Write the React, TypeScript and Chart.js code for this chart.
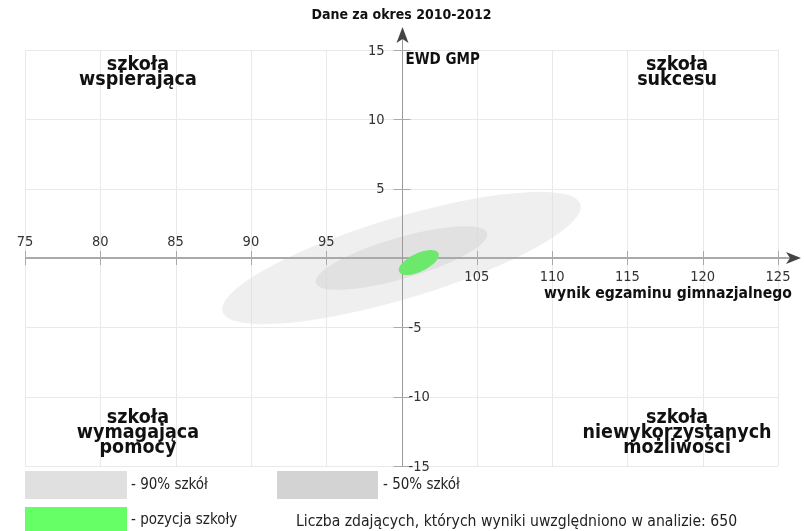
import React, { useEffect, useRef } from "react";
import { Chart, registerables } from "chart.js";

Chart.register(...registerables);

// ---- data ----
const chartTitle = "Dane za okres 2010-2012";
const xAxisTitle = "wynik egzaminu gimnazjalnego";
const yAxisTitle = "EWD GMP";
const xMin = 75;
const xMax = 125;
const yMin = -15;
const yMax = 15;
const xCross = 100;
const yCross = 0;
const xTickValues = [75, 80, 85, 90, 95, 100, 105, 110, 115, 120, 125];
const yTickValues = [-15, -10, -5, 0, 5, 10, 15];

const ellipseNames = ["90% szkół", "50% szkół", "pozycja szkoły"];
const ellipseCenterX = [100, 100, 101.15];
const ellipseCenterY = [0, 0, -0.33];
const ellipseHalfWidth = [11.9, 5.7, 1.33];
const ellipseHalfHeight = [4.77, 2.29, 0.9];
const ellipseCorrelation = [0.77, 0.74, 0.6];
const ellipseFill = ["rgba(224,224,224,0.5)", "rgba(211,211,211,0.5)", "rgb(108,232,108)"];
const legendFill = ["#e0e0e0", "#d3d3d3", "#66ff66"];

const quadrantLines = [
  ["szkoła", "wspierająca"],
  ["szkoła", "sukcesu"],
  ["szkoła", "wymagająca", "pomocy"],
  ["szkoła", "niewykorzystanych", "możliwości"],
];
const quadrantX = [82.5, 118.3, 82.5, 118.3];
const quadrantY = [13.95, 13.95, -11.55, -11.55];

const countNote = "Liczba zdających, których wyniki uwzględniono w analizie: 650";

const FONT = "'DejaVu Sans Condensed', 'DejaVu Sans', sans-serif";

const drawPlugin = {
  id: "ewdDraw",
  beforeDatasetsDraw(chart: any) {
    const ctx: CanvasRenderingContext2D = chart.ctx;
    const xs = chart.scales.x;
    const ys = chart.scales.y;
    const area = chart.chartArea;
    const ax = xs.getPixelForValue(xCross);
    const ay = ys.getPixelForValue(yCross);

    ctx.save();
    // grid
    ctx.strokeStyle = "#e9e9e9";
    ctx.lineWidth = 1;
    xTickValues.forEach((v) => {
      const px = Math.round(xs.getPixelForValue(v)) + 0.5;
      ctx.beginPath();
      ctx.moveTo(px, area.top);
      ctx.lineTo(px, area.bottom);
      ctx.stroke();
    });
    yTickValues.forEach((v) => {
      const py = Math.round(ys.getPixelForValue(v)) + 0.5;
      ctx.beginPath();
      ctx.moveTo(area.left, py);
      ctx.lineTo(area.right, py);
      ctx.stroke();
    });

    const drawEllipse = (i: number) => {
      const cx = xs.getPixelForValue(ellipseCenterX[i]);
      const cy = ys.getPixelForValue(ellipseCenterY[i]);
      const r = ellipseCorrelation[i];
      const h = ellipseHalfHeight[i];
      const ux = xs.getPixelForValue(ellipseCenterX[i] + ellipseHalfWidth[i]) - cx;
      const uy = ys.getPixelForValue(ellipseCenterY[i] + r * h) - cy;
      const vy = ys.getPixelForValue(ellipseCenterY[i] + Math.sqrt(1 - r * r) * h) - cy;
      ctx.save();
      ctx.transform(ux, uy, 0, vy, cx, cy);
      ctx.beginPath();
      ctx.arc(0, 0, 1, 0, Math.PI * 2);
      ctx.restore();
      ctx.fillStyle = ellipseFill[i];
      ctx.fill();
    };
    drawEllipse(0);
    drawEllipse(1);

    // x axis
    ctx.strokeStyle = "#aaaaaa";
    ctx.lineWidth = 2;
    ctx.beginPath();
    ctx.moveTo(area.left, ay);
    ctx.lineTo(area.right + 13, ay);
    ctx.stroke();
    // y axis
    ctx.strokeStyle = "#999999";
    ctx.lineWidth = 1;
    ctx.beginPath();
    ctx.moveTo(Math.round(ax) + 0.5, area.bottom);
    ctx.lineTo(Math.round(ax) + 0.5, area.top - 20);
    ctx.stroke();

    drawEllipse(2);

    // arrows
    ctx.fillStyle = "#444444";
    const yTip = area.top - 23;
    const axr = Math.round(ax) + 0.5;
    ctx.beginPath();
    ctx.moveTo(axr, yTip);
    ctx.lineTo(axr + 6, yTip + 16);
    ctx.lineTo(axr, yTip + 12);
    ctx.lineTo(axr - 6, yTip + 16);
    ctx.closePath();
    ctx.fill();
    const xTip = area.right + 23;
    ctx.beginPath();
    ctx.moveTo(xTip, ay);
    ctx.lineTo(xTip - 15, ay - 6);
    ctx.lineTo(xTip - 11, ay);
    ctx.lineTo(xTip - 15, ay + 6);
    ctx.closePath();
    ctx.fill();

    // tick marks
    ctx.strokeStyle = "#aaaaaa";
    ctx.lineWidth = 1;
    xTickValues.forEach((v) => {
      if (v === xCross) return;
      const px = Math.round(xs.getPixelForValue(v)) + 0.5;
      ctx.beginPath();
      ctx.moveTo(px, ay - 7);
      ctx.lineTo(px, ay + 7);
      ctx.stroke();
    });
    yTickValues.forEach((v) => {
      if (v === yCross) return;
      const py = Math.round(ys.getPixelForValue(v)) + 0.5;
      ctx.beginPath();
      ctx.moveTo(ax - 8, py);
      ctx.lineTo(ax + 9, py);
      ctx.stroke();
    });

    // tick labels
    ctx.fillStyle = "#333333";
    ctx.font = `14.5px ${FONT}`;
    ctx.textAlign = "center";
    ctx.textBaseline = "middle";
    xTickValues.forEach((v) => {
      if (v === xCross) return;
      const px = xs.getPixelForValue(v);
      ctx.fillText(String(v), px, v < xCross ? ay - 16 : ay + 19);
    });
    yTickValues.forEach((v) => {
      if (v === yCross) return;
      const py = ys.getPixelForValue(v);
      if (v > yCross) {
        ctx.textAlign = "right";
        ctx.fillText(String(v), ax - 17, py + 1);
      } else {
        ctx.textAlign = "left";
        ctx.fillText(String(v), ax + 7, py + 1);
      }
    });

    // axis titles
    ctx.fillStyle = "#111111";
    ctx.font = `bold 15px ${FONT}`;
    ctx.textAlign = "left";
    ctx.fillText(yAxisTitle, ax + 4, area.top + 10);
    ctx.font = `bold 15.6px ${FONT}`;
    ctx.textAlign = "right";
    ctx.fillText(xAxisTitle, area.right + 14, ay + 36);

    // title
    ctx.font = `bold 14px ${FONT}`;
    ctx.textAlign = "center";
    ctx.fillText(chartTitle, ax, 15);

    // quadrant labels
    ctx.font = `bold 19.5px ${FONT}`;
    ctx.fillStyle = "#111111";
    quadrantLines.forEach((lines, i) => {
      const px = xs.getPixelForValue(quadrantX[i]);
      const py = ys.getPixelForValue(quadrantY[i]);
      lines.forEach((t, j) => {
        ctx.fillText(t, px, py + j * 15);
      });
    });

    // legend
    const lx1 = area.left;
    const lx2 = area.left + 252;
    const ly1 = area.bottom + 5;
    const ly2 = area.bottom + 41;
    const sw = 102;
    const sh = 28;
    ctx.fillStyle = legendFill[0];
    ctx.fillRect(lx1, ly1, sw, sh);
    ctx.fillStyle = legendFill[1];
    ctx.fillRect(lx2, ly1, sw - 1, sh);
    ctx.fillStyle = legendFill[2];
    ctx.fillRect(lx1, ly2, sw, sh);
    ctx.fillStyle = "#222222";
    ctx.font = `15px ${FONT}`;
    ctx.textAlign = "left";
    ctx.fillText("- " + ellipseNames[0], lx1 + sw + 4, ly1 + 14);
    ctx.fillText("- " + ellipseNames[1], lx2 + sw + 4, ly1 + 14);
    ctx.fillText("- " + ellipseNames[2], lx1 + sw + 4, ly2 + 13);
    ctx.font = `15.6px ${FONT}`;
    ctx.fillText(countNote, 296, ly2 + 15);

    ctx.restore();
  },
};

export default function App() {
  const ref = useRef<HTMLCanvasElement | null>(null);
  useEffect(() => {
    if (!ref.current) return;
    const chart = new Chart(ref.current, {
      type: "scatter",
      data: { datasets: [] },
      options: {
        animation: false,
        responsive: false,
        maintainAspectRatio: false,
        layout: { padding: { left: 25, right: 26, top: 50, bottom: 65 } },
        scales: {
          x: { type: "linear", min: xMin, max: xMax, display: false },
          y: { type: "linear", min: yMin, max: yMax, display: false },
        },
        plugins: { legend: { display: false }, tooltip: { enabled: false } },
      },
      plugins: [drawPlugin],
    });
    return () => chart.destroy();
  }, []);
  return (
    <div style={{ position: "absolute", left: 0, top: 0, width: 804, height: 531, background: "#fff" }}>
      <canvas ref={ref} width={804} height={531} style={{ width: 804, height: 531, display: "block" }} />
    </div>
  );
}
